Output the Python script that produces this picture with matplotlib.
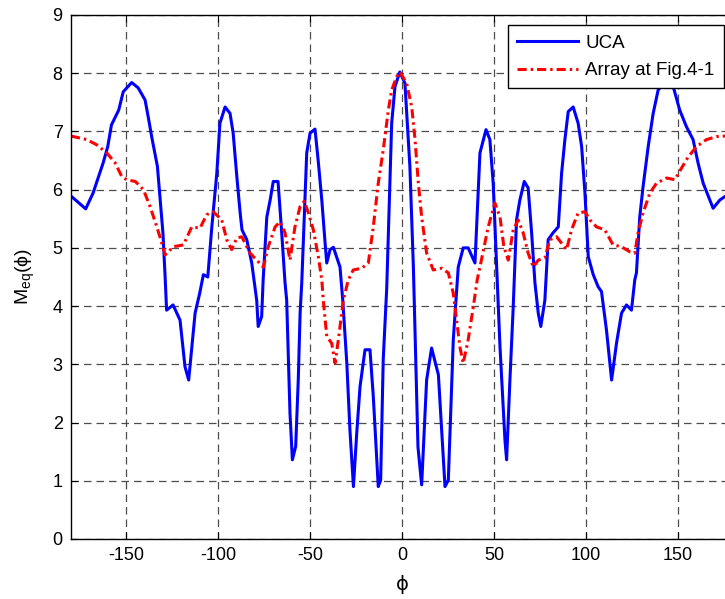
import matplotlib
matplotlib.use("Agg")
import matplotlib.pyplot as plt

plt.rcParams['font.family'] = ['Liberation Sans', 'DejaVu Sans']
plt.rcParams['axes.unicode_minus'] = False
plt.rcParams['mathtext.fontset'] = 'custom'
plt.rcParams['mathtext.rm'] = 'Liberation Sans'

# UCA curve
phi_uca = [-180, -172, -168, -162.5, -160, -158, -154, -151.6, -147, -143.5, -139.7, -138, -136, -133,
           -131.5, -130, -128.8, -128, -124.5, -120.7, -118, -116, -112.5, -110, -108, -105.6, -103.4,
           -100.7, -99, -96.2, -93.5, -91.8, -89.8, -88, -87, -84.4, -81.7, -79, -78.2, -76.3, -75.5,
           -73.5, -71.7, -70, -67.4, -65.4, -63.6, -62.7, -60.9, -59.6, -57.8, -56.4, -55.4, -54.5,
           -51.8, -50, -47.3, -45.6, -43.6, -41.8, -40.9, -39.1, -37.3, -33.7, -32.2, -30, -28.3,
           -26.4, -24.6, -22.8, -20.1, -17.4, -15.6, -12.9, -11.6, -10.2, -8.3, -5.6, -3.8, -1.2,
           1.6, 4.3, 6.2, 8.7, 10.7, 13.4, 16.1, 19.8, 23.4, 25.2, 27.9, 30.6, 33.3, 36, 39.7, 42.4,
           45.7, 47.8, 49.6, 51.5, 53.3, 56, 56.9, 58.7, 60.5, 62.3, 64.1, 66.5, 68.6, 70.5, 72.3,
           74.1, 75.5, 77.7, 79.5, 82.2, 85, 86.8, 88.6, 90.4, 93.1, 95.8, 97.7, 99.5, 101.3, 104,
           106.7, 108.5, 111.2, 114, 116.7, 119.4, 122.1, 124.8, 126.6, 127.5, 129.3, 131.1, 133.9,
           136.6, 139.3, 142, 144.5, 147.5, 151, 154.7, 158.3, 161, 163.8, 167.4, 169.2, 172.8,
           175.5, 180]
m_uca = [5.89, 5.67, 5.94, 6.46, 6.74, 7.11, 7.37, 7.68, 7.84, 7.75, 7.54, 7.25, 6.89, 6.4,
         5.82, 5.26, 4.5, 3.93, 4.02, 3.76, 2.96, 2.73, 3.88, 4.22, 4.54, 4.5, 5.36,
         6.28, 7.14, 7.42, 7.31, 6.97, 6.22, 5.6, 5.31, 5.14, 4.74, 4.1, 3.65, 3.82, 4.45,
         5.53, 5.82, 6.14, 6.14, 5.26, 4.4, 4.1, 2.16, 1.36, 1.59, 2.73, 3.88, 4.4,
         6.63, 6.97, 7.04, 6.51, 5.82, 5.08, 4.74, 4.97, 5.01, 4.67, 4.1, 3.02, 1.87,
         0.9, 1.82, 2.62, 3.25, 3.25, 2.45, 0.9, 1.01, 3.08, 4.3, 7.14, 7.77, 8.02,
         7.83, 6.4, 4.67, 1.58, 0.93, 2.73, 3.28, 2.82, 0.9, 1.01, 3.42, 4.67, 5.0, 5.0, 4.74, 6.63,
         7.03, 6.86, 6.11, 4.67, 3.3, 1.7, 1.36, 2.73, 3.99, 5.48, 5.82, 6.14, 6.03, 5.26, 4.4,
         3.88, 3.65, 4.1, 5.14, 5.26, 5.36, 6.28, 6.86, 7.34, 7.42, 7.14, 6.74, 5.94, 4.85, 4.54,
         4.33, 4.25, 3.59, 2.73, 3.37, 3.88, 4.02, 3.93, 4.45, 4.57, 5.53, 6.05, 6.74,
         7.31, 7.71, 7.82, 7.85, 7.77, 7.37, 7.08, 6.86, 6.46, 6.11, 5.82, 5.68, 5.82,
         5.88, 5.9]

# Array at Fig.4-1 curve
phi_arr = [-180, -171.4, -166, -160.5, -156, -152.3, -149.6, -145, -140.6, -137, -133.3, -130.6,
           -128.8, -124.3, -118.9, -114.3, -109.8, -106.2, -102.6, -98, -95.3, -92.6, -89.8, -87.1,
           -82.6, -79, -75.4, -72.7, -69, -66.3, -63.6, -60.9, -58.2, -55.4, -53.1, -50.9, -48.2,
           -45.5, -43.6, -42.8, -40.9, -38.2, -36.4, -34.6, -31.9, -29.2, -26.5, -21.9, -18.3,
           -15.6, -12.9, -10.2, -7.4, -5.6, -2.9, -1.1, 2.5, 5.3, 7.1, 8.9, 10.7, 13.4, 17, 21.6,
           25.2, 27.9, 28.8, 31.5, 33.3, 36, 38.8, 40.9, 42.4, 46.9, 50.5, 53.3, 55.4, 57.8, 60.5,
           63.2, 65.9, 68.6, 71.4, 74.1, 77.7, 80.4, 84.1, 86.8, 89.5, 92.2, 95.8, 99.5, 102.2,
           105.8, 110.3, 114.8, 119.4, 124, 126.6, 128.4, 131.1, 134.8, 138.4, 143.9, 148.4, 152,
           155.6, 160.2, 165.6, 171, 175.5, 180]
m_arr = [6.92, 6.86, 6.77, 6.63, 6.46, 6.22, 6.17, 6.14, 6.0, 5.71, 5.36, 5.08,
         4.88, 5.02, 5.05, 5.36, 5.34, 5.57, 5.62, 5.48, 5.14, 4.97, 5.17, 5.19,
         4.91, 4.79, 4.67, 5.02, 5.36, 5.45, 5.26, 4.79, 5.36, 5.71, 5.8, 5.6, 5.31,
         4.85, 4.45, 4.1, 3.48, 3.36, 3.02, 3.42, 4.1, 4.45, 4.62, 4.65, 4.74,
         5.36, 6.11, 6.68, 7.37, 7.71, 7.94, 8.02, 7.83, 7.42, 6.86, 6.11, 5.53, 4.91, 4.62, 4.65,
         4.57, 4.22, 3.99, 3.3, 3.02, 3.42, 3.99, 4.45, 4.67, 5.36, 5.77, 5.53, 5.02, 4.79, 5.31,
         5.48, 5.26, 4.91, 4.67, 4.79, 4.83, 5.14, 5.19, 5.08, 4.97, 5.31, 5.6, 5.62, 5.48,
         5.36, 5.31, 5.05, 5.02, 4.93, 4.91, 5.26, 5.6, 5.94, 6.11, 6.2, 6.17, 6.37,
         6.56, 6.74, 6.86, 6.91, 6.92, 6.92]

xticks = [-150, -100, -50, 0, 50, 100, 150]
yticks = [0, 1, 2, 3, 4, 5, 6, 7, 8, 9]

fig = plt.figure(figsize=(7.25, 5.99), dpi=100)
ax = fig.add_axes([0.0979, 0.1002, 0.9131, 0.8748])

ax.plot(phi_uca, m_uca, color='#0000ff', lw=2.2, label='UCA')
ax.plot(phi_arr, m_arr, color='#ff0000', lw=2.2, dashes=(3.0, 1.3, 0.8, 1.3),
        label='Array at Fig.4-1')

ax.set_xlim(-180, 180)
ax.set_ylim(0, 9)
ax.set_xticks(xticks)
ax.set_yticks(yticks)
ax.tick_params(direction='in', labelsize=13, length=5, width=0.8,
               top=True, right=True, pad=6)
ax.grid(True, color='0.3', linestyle=(0, (6, 4)), linewidth=0.9)
for s in ax.spines.values():
    s.set_linewidth(1.0)

ax.set_xlabel('\u03d5', fontsize=14, family=['DejaVu Sans'])
ax.set_ylabel('M$_{\\mathrm{eq}}$(\u03d5)', fontsize=14)
ax.xaxis.set_label_coords(0.5, -0.068)
ax.yaxis.set_label_coords(-0.052, 0.5)

leg = ax.legend(loc='upper right', bbox_to_anchor=(0.9986, 0.958),
                bbox_transform=fig.transFigure, fontsize=13.5, fancybox=False,
                framealpha=1, edgecolor='black', handlelength=3.25, handletextpad=0.37,
                borderpad=0.5, labelspacing=0.55, borderaxespad=0)
leg.get_frame().set_linewidth(1.0)

fig.savefig('out.png', dpi=100)
